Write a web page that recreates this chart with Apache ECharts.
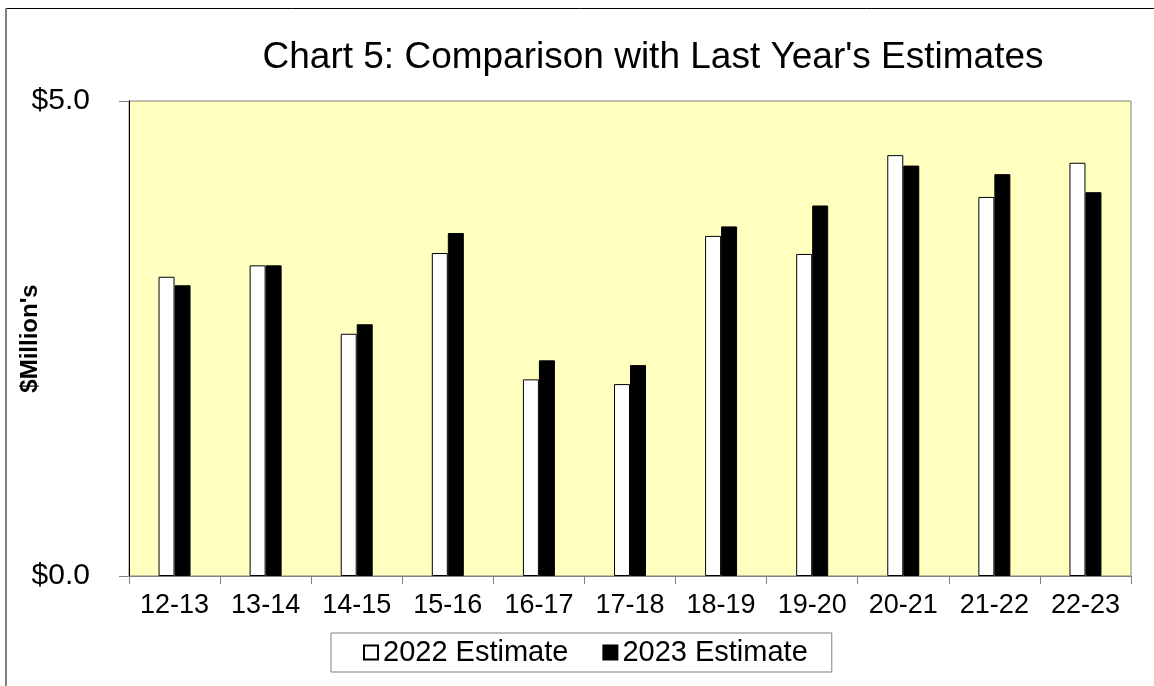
<!DOCTYPE html>
<html>
<head>
<meta charset="utf-8">
<script src="https://cdn.jsdelivr.net/npm/echarts@6/dist/echarts.min.js"></script>
<style>
  html, body { margin: 0; padding: 0; background: #ffffff; }
  #chart { width: 1154px; height: 686px; }
</style>
</head>
<body>
<div id="chart"></div>
<script>
// Fiscal years on the category axis
const years = ['12-13', '13-14', '14-15', '15-16', '16-17', '17-18', '18-19', '19-20', '20-21', '21-22', '22-23'];

// Estimates in $ millions
const estimate2022 = [3.15, 3.27, 2.55, 3.40, 2.07, 2.02, 3.58, 3.39, 4.43, 3.99, 4.35];
const estimate2023 = [3.06, 3.27, 2.65, 3.61, 2.27, 2.22, 3.68, 3.90, 4.32, 4.23, 4.04];

// Value axis ticks
const yMin = 0;
const yMax = 5;
const yStep = 5;

const FONT = '"Liberation Sans", Arial, sans-serif';

const chart = echarts.init(document.getElementById('chart'), null, { renderer: 'canvas' });

chart.setOption({
  animation: false,
  backgroundColor: '#ffffff',
  title: {
    text: "Chart 5: Comparison with Last Year's Estimates",
    left: 648,
    textAlign: 'center',
    top: 34,
    textStyle: { fontFamily: FONT, fontSize: 37, fontWeight: 'normal', color: '#000000' }
  },
  legend: {
    left: 331,
    top: 633,
    orient: 'horizontal',
    icon: 'rect',
    itemWidth: 14,
    itemHeight: 14,
    itemGap: 34,
    padding: [5, 24, 5, 32],
    borderColor: '#808080',
    borderWidth: 1,
    textStyle: { fontFamily: FONT, fontSize: 29, color: '#000000' },
    data: ['2022 Estimate', '2023 Estimate']
  },
  grid: {
    left: 129,
    right: 23,
    top: 101,
    bottom: 110,
    containLabel: false,
    outerBoundsMode: 'none',
    show: true,
    backgroundColor: '#FFFFC0',
    borderColor: '#808080',
    borderWidth: 1
  },
  xAxis: {
    type: 'category',
    data: years,
    boundaryGap: true,
    axisLine: { lineStyle: { color: '#808080', width: 1 } },
    axisTick: { show: true, alignWithLabel: false, length: 8, lineStyle: { color: '#808080' } },
    axisLabel: { fontFamily: FONT, fontSize: 27, color: '#000000', margin: 16, interval: 0 },
    splitLine: { show: false }
  },
  yAxis: {
    type: 'value',
    min: yMin,
    max: yMax,
    interval: yStep,
    name: "$Million's",
    nameLocation: 'middle',
    nameGap: 87,
    nameMoveOverlap: false,
    nameRotate: 90,
    nameTextStyle: { fontFamily: FONT, fontSize: 24, fontWeight: 'bold', color: '#000000' },
    axisLine: { show: true, lineStyle: { color: '#000000', width: 1 } },
    axisTick: { show: true, length: 10, lineStyle: { color: '#808080' } },
    axisLabel: {
      fontFamily: FONT, fontSize: 30, color: '#000000', margin: 39,
      formatter: v => '$' + v.toFixed(1)
    },
    splitLine: { show: false }
  },
  series: [
    {
      name: '2022 Estimate',
      type: 'bar',
      data: estimate2022,
      barWidth: 16,
      barGap: '0%',
      itemStyle: { color: '#ffffff', borderColor: '#000000', borderWidth: 1 }
    },
    {
      name: '2023 Estimate',
      type: 'bar',
      data: estimate2023,
      barWidth: 16,
      barGap: '0%',
      itemStyle: { color: '#000000', borderColor: '#000000', borderWidth: 1 }
    }
  ],
  graphic: [
    // outer frame: dark top edge, grey left edge
    { type: 'line', shape: { x1: 5, y1: 8.5, x2: 1154, y2: 8.5 }, style: { stroke: '#000000', lineWidth: 1 } },
    { type: 'line', shape: { x1: 6, y1: 8, x2: 6, y2: 686 }, style: { stroke: '#808080', lineWidth: 2 } }
  ]
});
</script>
</body>
</html>
